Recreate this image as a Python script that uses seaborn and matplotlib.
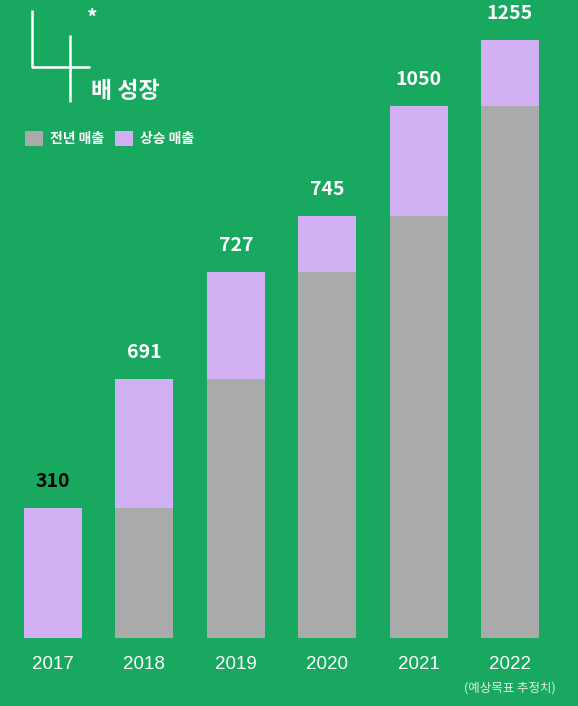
import matplotlib
matplotlib.use('Agg')
import matplotlib.pyplot as plt
from matplotlib.patches import Patch
from matplotlib.lines import Line2D
import seaborn as sns

years = ['2017', '2018', '2019', '2020', '2021', '2022']
values = [310, 691, 727, 745, 1050, 1255]
# the bars in the picture are not drawn to scale: heights as drawn
bar_total = [130, 259, 366, 422, 532, 598]
bar_prev = [0, 130, 259, 366, 422, 532]
label_colors = ['black', 'white', 'white', 'white', 'white', 'white']
legend_labels = ['전년 매출', '상승 매출']

green = '#18a85f'
gray = '#a9abaa'
purple = '#d1b0f3'

sns.set_style('white')
plt.rcParams['font.family'] = ['Noto Sans CJK KR', 'DejaVu Sans']

fig = plt.figure(figsize=(5.78, 7.06), dpi=100, facecolor=green)
ax = fig.add_axes([0, 68 / 706, 1, 638 / 706])
ax.set_facecolor(green)

sns.barplot(x=years, y=bar_total, color=purple, width=0.635, saturation=1,
            linewidth=0, edgecolor='none', ax=ax)
sns.barplot(x=years, y=bar_prev, color=gray, width=0.635, saturation=1,
            linewidth=0, edgecolor='none', ax=ax)

for i, (h, v, c) in enumerate(zip(bar_total, values, label_colors)):
    ax.annotate(str(v), (i, h), xytext=(0, 19), textcoords='offset points',
                ha='center', va='center', fontsize=14, fontweight='bold', color=c)

ax.set_xlim(-0.58, 5.744)
ax.set_ylim(0, 638)
ax.set_yticks([])
ax.set_xticks(range(len(years)))
ax.set_xticklabels(years, color='white', fontsize=13.5, family='Liberation Sans')
ax.tick_params(axis='x', length=0, pad=13)
sns.despine(ax=ax, left=True, bottom=True)

# "4" drawn as lines + title
W, H = 578, 706
fig.add_artist(Line2D([32 / W, 32 / W, 90 / W], [1 - 10 / H, 1 - 67 / H, 1 - 67 / H],
                      color='white', lw=1.8, solid_capstyle='butt'))
fig.add_artist(Line2D([70 / W, 70 / W], [1 - 35 / H, 1 - 102 / H],
                      color='white', lw=1.8, solid_capstyle='butt'))
fig.text(87 / W, 1 - 18 / H, '*', color='white', fontsize=15, fontweight='bold',
         ha='left', va='center')
fig.text(91 / W, 1 - 92 / H, '배 성장', color='white', fontsize=16.5, fontweight='bold',
         ha='left', va='center')

handles = [Patch(facecolor=gray, edgecolor='none', label=legend_labels[0]),
           Patch(facecolor=purple, edgecolor='none', label=legend_labels[1])]
fig.legend(handles=handles, loc='upper left', bbox_to_anchor=(25 / W, 1 - 131 / H),
           ncol=2, frameon=False, prop={'size': 10, 'weight': 'bold'},
           handlelength=1.3, handleheight=1.3, handletextpad=0.5,
           columnspacing=0.8, borderpad=0, borderaxespad=0, labelcolor='white')

fig.text(510 / W, 1 - 688 / H, '(예상목표 추정치)', color='#dcefe3', fontsize=9,
         ha='center', va='center')

fig.savefig('out.png', dpi=100, facecolor=green)
